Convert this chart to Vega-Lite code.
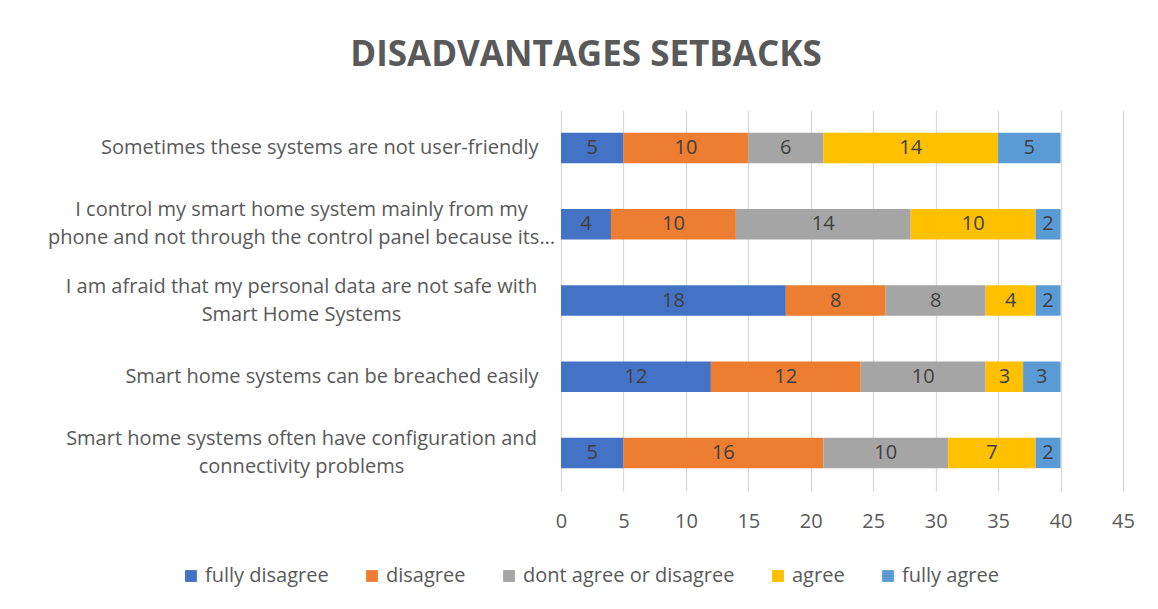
{
  "$schema": "https://vega.github.io/schema/vega-lite/v6.json",
  "width": 562,
  "height": 381,
  "autosize": "none",
  "padding": {"left": 561, "top": 110, "right": 35, "bottom": 118},
  "background": "white",
  "config": {"view": {"stroke": null}, "font": "Open Sans"},
  "title": {"text": "DISADVANTAGES SETBACKS", "fontSize": 35, "font": "Open Sans", "fontWeight": "bold", "color": "#595959", "anchor": "middle", "dx": -256, "offset": 37},
  "data": {"values": [
    {"q": "Sometimes these systems are not user-friendly", "resp": "fully disagree", "o": 1, "n": 5},
    {"q": "Sometimes these systems are not user-friendly", "resp": "disagree", "o": 2, "n": 10},
    {"q": "Sometimes these systems are not user-friendly", "resp": "dont agree or disagree", "o": 3, "n": 6},
    {"q": "Sometimes these systems are not user-friendly", "resp": "agree", "o": 4, "n": 14},
    {"q": "Sometimes these systems are not user-friendly", "resp": "fully agree", "o": 5, "n": 5},
    {"q": "I control my smart home system mainly from my|phone and not through the control panel because its…", "resp": "fully disagree", "o": 1, "n": 4},
    {"q": "I control my smart home system mainly from my|phone and not through the control panel because its…", "resp": "disagree", "o": 2, "n": 10},
    {"q": "I control my smart home system mainly from my|phone and not through the control panel because its…", "resp": "dont agree or disagree", "o": 3, "n": 14},
    {"q": "I control my smart home system mainly from my|phone and not through the control panel because its…", "resp": "agree", "o": 4, "n": 10},
    {"q": "I control my smart home system mainly from my|phone and not through the control panel because its…", "resp": "fully agree", "o": 5, "n": 2},
    {"q": "I am afraid that my personal data are not safe with|Smart Home Systems", "resp": "fully disagree", "o": 1, "n": 18},
    {"q": "I am afraid that my personal data are not safe with|Smart Home Systems", "resp": "disagree", "o": 2, "n": 8},
    {"q": "I am afraid that my personal data are not safe with|Smart Home Systems", "resp": "dont agree or disagree", "o": 3, "n": 8},
    {"q": "I am afraid that my personal data are not safe with|Smart Home Systems", "resp": "agree", "o": 4, "n": 4},
    {"q": "I am afraid that my personal data are not safe with|Smart Home Systems", "resp": "fully agree", "o": 5, "n": 2},
    {"q": "Smart home systems can be breached easily", "resp": "fully disagree", "o": 1, "n": 12},
    {"q": "Smart home systems can be breached easily", "resp": "disagree", "o": 2, "n": 12},
    {"q": "Smart home systems can be breached easily", "resp": "dont agree or disagree", "o": 3, "n": 10},
    {"q": "Smart home systems can be breached easily", "resp": "agree", "o": 4, "n": 3},
    {"q": "Smart home systems can be breached easily", "resp": "fully agree", "o": 5, "n": 3},
    {"q": "Smart home systems often have configuration and|connectivity problems", "resp": "fully disagree", "o": 1, "n": 5},
    {"q": "Smart home systems often have configuration and|connectivity problems", "resp": "disagree", "o": 2, "n": 16},
    {"q": "Smart home systems often have configuration and|connectivity problems", "resp": "dont agree or disagree", "o": 3, "n": 10},
    {"q": "Smart home systems often have configuration and|connectivity problems", "resp": "agree", "o": 4, "n": 7},
    {"q": "Smart home systems often have configuration and|connectivity problems", "resp": "fully agree", "o": 5, "n": 2}
  ]},
  "transform": [
    {"stack": "n", "groupby": ["q"], "sort": [{"field": "o", "order": "ascending"}], "as": ["x0", "x1"]},
    {"calculate": "(datum.x0 + datum.x1) / 2", "as": "xm"}
  ],
  "encoding": {
    "y": {
      "field": "q", "type": "nominal",
      "sort": [
        "Sometimes these systems are not user-friendly",
        "I control my smart home system mainly from my|phone and not through the control panel because its…",
        "I am afraid that my personal data are not safe with|Smart Home Systems",
        "Smart home systems can be breached easily",
        "Smart home systems often have configuration and|connectivity problems"
      ],
      "scale": {"paddingInner": 0.6, "paddingOuter": 0.3},
      "axis": {
        "title": null, "domain": false, "ticks": false, "grid": false,
        "labelExpr": "split(datum.label, '|')",
        "labelAlign": {"condition": {"test": "indexof(datum.value, '|') >= 0", "value": "center"}, "value": "right"},
        "labelPadding": {"condition": {"test": "indexof(datum.value, '|') >= 0", "value": 260}, "value": 23},
        "labelBaseline": "middle",
        "labelLimit": 700, "labelFontSize": 20, "labelColor": "#595959",
        "labelLineHeight": 28, "labelFont": "Open Sans",
        "labelOffset": {"condition": {"test": "indexof(datum.value, '|') >= 0", "value": -14}, "value": 0}
      }
    }
  },
  "layer": [
    {
      "mark": {"type": "bar"},
      "encoding": {
        "x": {"field": "x0", "type": "quantitative",
          "scale": {"domain": [0, 45], "nice": false},
          "axis": {"title": null, "values": [0,5,10,15,20,25,30,35,40,45], "domain": false, "ticks": false,
            "grid": true, "gridColor": "#D9D9D9", "gridWidth": 1.3, "labelFlush": false,
            "labelFontSize": 20, "labelColor": "#595959", "labelPadding": 20, "labelFont": "Open Sans"}},
        "x2": {"field": "x1"},
        "color": {
          "field": "resp", "type": "nominal",
          "scale": {
            "domain": ["fully disagree", "disagree", "dont agree or disagree", "agree", "fully agree"],
            "range": ["#4472C4", "#ED7D31", "#A5A5A5", "#FFC000", "#5B9BD5"]
          },
          "legend": {
            "title": null, "orient": "none", "direction": "horizontal",
            "legendX": -380, "legendY": 456,
            "symbolType": "square", "symbolSize": 140, "symbolStrokeWidth": 0,
            "labelFontSize": 20, "labelColor": "#595959", "labelFont": "Open Sans",
            "columnPadding": 33, "labelOffset": 4, "labelLimit": 400
          }
        }
      }
    },
    {
      "mark": {"type": "text", "fontSize": 20, "color": "#404040", "font": "Open Sans", "baseline": "middle", "align": "center"},
      "encoding": {
        "x": {"field": "xm", "type": "quantitative"},
        "text": {"field": "n", "type": "quantitative"}
      }
    }
  ]
}
